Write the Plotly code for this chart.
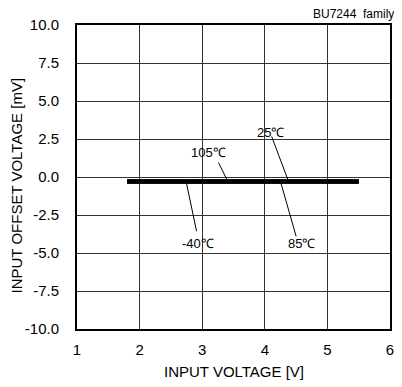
import plotly.graph_objects as go

# data
input_voltage = [1.8, 5.5]
offset_m40 = [-0.3, -0.3]
offset_25 = [-0.3, -0.3]
offset_85 = [-0.3, -0.3]
offset_105 = [-0.3, -0.3]
x_ticks = [1, 2, 3, 4, 5, 6]
y_ticks = [10.0, 7.5, 5.0, 2.5, 0.0, -2.5, -5.0, -7.5, -10.0]
y_tick_text = ["10.0", "7.5", "5.0", "2.5", "0.0", "-2.5", "-5.0", "-7.5", "-10.0"]

# annotation labels: (text, text x, text y, leader start x, y, leader end x, y)
labels = ["105℃", "25℃", "-40℃", "85℃"]
label_x = [3.10, 4.09, 2.94, 4.58]
label_y = [1.61, 2.92, -4.36, -4.36]
lead_x0 = [3.26, 4.11, 2.75, 4.26]
lead_y0 = [0.95, 2.66, -0.43, -0.43]
lead_x1 = [3.41, 4.38, 2.91, 4.50]
lead_y1 = [-0.30, -0.30, -3.57, -3.90]

font = "Liberation Sans, Arial, sans-serif"

fig = go.Figure()
for ys in [offset_m40, offset_25, offset_85, offset_105]:
    fig.add_trace(go.Scatter(x=input_voltage, y=ys, mode="lines",
                             line=dict(color="black", width=4), showlegend=False))

for i in range(len(labels)):
    fig.add_trace(go.Scatter(x=[lead_x0[i], lead_x1[i]], y=[lead_y0[i], lead_y1[i]],
                             mode="lines", line=dict(color="black", width=1),
                             showlegend=False))
    fig.add_annotation(x=label_x[i], y=label_y[i], text=labels[i], showarrow=False,
                       font=dict(family=font, size=13, color="black"))

fig.add_annotation(x=1.0, y=1.0, xref="paper", yref="paper", xanchor="right",
                   yanchor="middle", yshift=11, xshift=6, text="BU7244  family",
                   showarrow=False, font=dict(family=font, size=12, color="black"))

# axis titles
fig.add_annotation(x=0.5, y=0, xref="paper", yref="paper", xanchor="center",
                   yanchor="middle", yshift=-42, text="INPUT VOLTAGE [V]",
                   showarrow=False, font=dict(family=font, size=15, color="black"))
fig.add_annotation(x=0, y=0.472, xref="paper", yref="paper", xanchor="center",
                   yanchor="middle", xshift=-60, textangle=-90, borderpad=0,
                   text="INPUT OFFSET VOLTAGE [mV]",
                   showarrow=False, font=dict(family=font, size=15, color="black"))

fig.update_layout(
    width=394, height=379,
    margin=dict(l=69, r=8, t=16, b=58),
    paper_bgcolor="white", plot_bgcolor="white",
    font=dict(family=font, size=15, color="black"),
    xaxis=dict(range=[0.9999, 6.0001], tickvals=x_ticks, showgrid=True, gridcolor="#333",
               gridwidth=1, zeroline=False, showline=True, linecolor="black",
               linewidth=2, mirror=True, ticks="", ticklabelstandoff=6,
               tickfont=dict(size=15)),
    yaxis=dict(range=[-10, 10], tickvals=y_ticks, ticktext=y_tick_text, showgrid=True,
               gridcolor="#333", gridwidth=1, zeroline=False, showline=True,
               linecolor="black", linewidth=2, mirror=True, ticks="",
               ticklabelstandoff=13, tickfont=dict(size=15)),
)

fig.write_html("out.html")
